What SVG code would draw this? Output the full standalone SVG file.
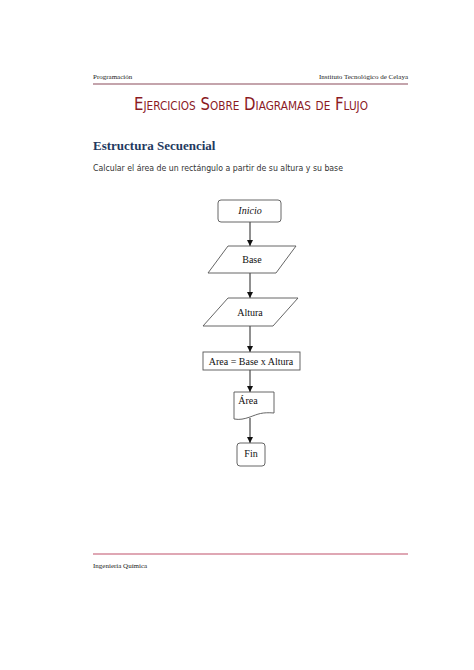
<svg xmlns="http://www.w3.org/2000/svg" width="474" height="670" viewBox="0 0 474 670">
<defs>
<style>
.hdr{font-family:"Liberation Serif",serif;font-size:7px;fill:#222}
.ttl{font-family:"DejaVu Sans",sans-serif;fill:#8b1a1f;font-size:17px;font-variant:small-caps}
.sub{font-family:"Liberation Serif",serif;font-size:13px;font-weight:bold;fill:#1f3a60}
.body{font-family:"DejaVu Sans",sans-serif;font-size:9px;fill:#333}
.shape{fill:#fff;stroke:#555;stroke-width:0.9}
.lbl{font-family:"Liberation Serif",serif;font-size:10px;fill:#111;text-anchor:middle}
.conn{stroke:#222;stroke-width:1;fill:none;marker-end:url(#ah)}
</style>
<marker id="ah" viewBox="0 0 10 10" refX="10" refY="5" markerWidth="6" markerHeight="6" markerUnits="userSpaceOnUse" orient="auto">
<path d="M0,0 L10,5 L0,10 z" fill="#111"/>
</marker>
</defs>
<rect width="474" height="670" fill="#fff"/>
<text class="hdr" x="93" y="79">Programación</text>
<text class="hdr" x="408" y="79" text-anchor="end">Instituto Tecnológico de Celaya</text>
<line x1="93" y1="84" x2="408" y2="84" stroke="#8a4a5a" stroke-width="1.2"/>
<text class="ttl" x="134" y="110" textLength="234" lengthAdjust="spacingAndGlyphs">Ejercicios Sobre Diagramas de Flujo</text>
<text class="sub" x="93" y="150">Estructura Secuencial</text>
<text class="body" x="93" y="171" textLength="250" lengthAdjust="spacingAndGlyphs">Calcular el área de un rectángulo a partir de su altura y su base</text>
<g id="connectors">
<line class="conn" x1="250" y1="222" x2="250" y2="246"/>
<line class="conn" x1="250" y1="273" x2="250" y2="298"/>
<line class="conn" x1="250" y1="326" x2="250" y2="352"/>
<line class="conn" x1="250" y1="370" x2="250" y2="392"/>
<line class="conn" x1="250" y1="418" x2="250" y2="443"/>
</g>
<g id="inicio">
<rect class="shape" x="218" y="200" width="63" height="22" rx="3"/>
<text class="lbl" x="250" y="214" font-style="italic">Inicio</text>
</g>
<g id="base">
<polygon class="shape" points="228,246 296,246 276,273 208,273"/>
<text class="lbl" x="252" y="263">Base</text>
</g>
<g id="altura">
<polygon class="shape" points="228,298 298,298 273,326 203,326"/>
<text class="lbl" x="250" y="316">Altura</text>
</g>
<g id="calc">
<rect class="shape" x="203" y="352" width="97" height="18"/>
<text class="lbl" x="251" y="365">Area = Base x Altura</text>
</g>
<g id="area">
<path class="shape" d="M234,392 H274 V413 C262,412 258,414 250,417 C244,419 240,420 234,419 Z"/>
<text class="lbl" x="248" y="404">Área</text>
</g>
<g id="fin">
<rect class="shape" x="237" y="443" width="28" height="23" rx="3"/>
<text class="lbl" x="251" y="457">Fin</text>
</g>
<line x1="93" y1="554" x2="408" y2="554" stroke="#c0506a" stroke-width="1.2"/>
<text class="hdr" x="93" y="568">Ingeniería Química</text>
</svg>
